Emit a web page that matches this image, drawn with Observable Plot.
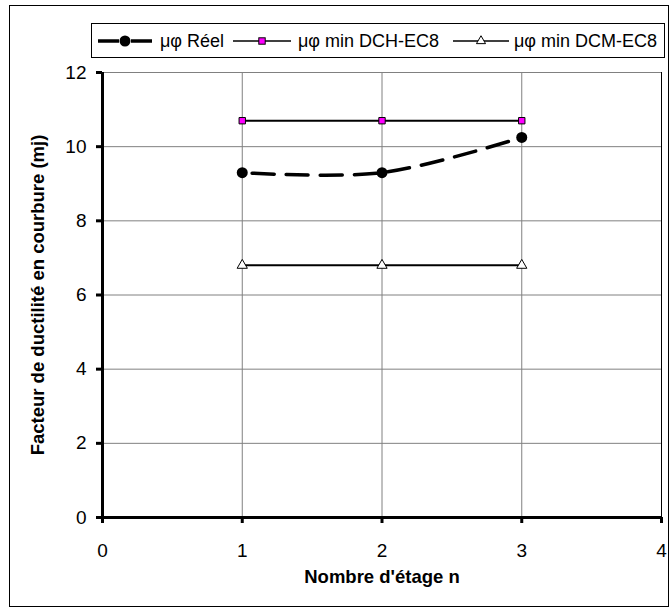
<!DOCTYPE html>
<html>
<head>
<meta charset="utf-8">
<script src="https://cdn.jsdelivr.net/npm/d3@7"></script>
<script src="https://cdn.jsdelivr.net/npm/@observablehq/plot@0.6"></script>
<style>
  html, body { margin: 0; padding: 0; background: #fff; }
  #wrap { position: relative; width: 672px; height: 614px; font-family: "Liberation Sans", Arial, sans-serif; }
  #frame { position: absolute; left: 9px; top: 5px; width: 660px; height: 602px; border: 1px solid #000; box-sizing: border-box; pointer-events: none; }
  #chart { position: absolute; left: 0; top: 0; }
  #legend { position: absolute; left: 91px; top: 23px; width: 574px; height: 35px; border: 1px solid #000; box-sizing: border-box; background: #fff; }
  #legend svg { position: absolute; left: 0; top: 0; }
</style>
</head>
<body>
<div id="wrap">
  <div id="chart"></div>
  <div id="frame"></div>
  <div id="legend"></div>
</div>
<script>
// ---- data ----
const etages = [1, 2, 3];
const reel = [9.3, 9.3, 10.25];
const dch = [10.7, 10.7, 10.7];
const dcm = [6.8, 6.8, 6.8];
const seriesNames = ["μφ Réel", "μφ min DCH-EC8", "μφ min DCM-EC8"];
const xTicks = [0, 1, 2, 3, 4];
const yTicks = [0, 2, 4, 6, 8, 10, 12];
const xTitle = "Nombre d'étage n";
const yTitle = "Facteur de ductilité en courbure (mj)";

const rowsReel = etages.map((e, i) => ({x: e, y: reel[i]}));
const rowsDch = etages.map((e, i) => ({x: e, y: dch[i]}));
const rowsDcm = etages.map((e, i) => ({x: e, y: dcm[i]}));

const chart = Plot.plot({
  width: 672,
  height: 614,
  marginTop: 72,
  marginBottom: 97,
  marginLeft: 102,
  marginRight: 11,
  style: {fontFamily: "Liberation Sans, Arial, sans-serif", color: "#000", background: "transparent"},
  x: {domain: [0, 4]},
  y: {domain: [0, 12]},
  marks: [
    Plot.gridX(xTicks.filter(d => d > 0), {stroke: "#808080", strokeOpacity: 1, strokeWidth: 1}),
    Plot.gridY(yTicks.filter(d => d > 0), {stroke: "#808080", strokeOpacity: 1, strokeWidth: 1}),
    Plot.ruleX([4], {stroke: "#000", strokeWidth: 1}),
    Plot.axisX({ticks: xTicks, tickSize: 6, tickPadding: 20, fontSize: 19, strokeWidth: 3, label: null, tickFormat: d => String(d)}),
    Plot.axisY({ticks: yTicks, tickSize: 6, tickPadding: 10, fontSize: 19, strokeWidth: 3, label: null, tickFormat: d => String(d)}),
    Plot.ruleY([0], {stroke: "#000", strokeWidth: 3}),
    Plot.ruleX([0], {stroke: "#000", strokeWidth: 3}),
    Plot.line(rowsDcm, {x: "x", y: "y", stroke: "#000", strokeWidth: 2}),
    Plot.dot(rowsDcm, {x: "x", y: "y", symbol: "triangle", r: 3.8, fill: "#fff", stroke: "#000", strokeWidth: 1}),
    Plot.line(rowsDch, {x: "x", y: "y", stroke: "#000", strokeWidth: 2}),
    Plot.dot(rowsDch, {x: "x", y: "y", symbol: "square", r: 3.6, fill: "#ff00ff", stroke: "#000", strokeWidth: 1}),
    Plot.line(rowsReel, {x: "x", y: "y", curve: "catmull-rom", stroke: "#000", strokeWidth: 3.5, strokeDasharray: "22,12", strokeDashoffset: -10}),
    Plot.dot(rowsReel, {x: "x", y: "y", r: 5.5, fill: "#000", stroke: "none"}),
    Plot.text([xTitle], {frameAnchor: "bottom", dy: 65, text: d => d, fontSize: 18.5, fontWeight: "bold", fill: "#000"}),
    Plot.text([yTitle], {frameAnchor: "left", dx: -64, rotate: -90, textAnchor: "middle", text: d => d, fontSize: 18.5, fontWeight: "bold", fill: "#000"})
  ]
});
document.getElementById("chart").appendChild(chart);

// ---- legend ----
const legend = d3.select("#legend").append("svg").attr("width", 572).attr("height", 33)
  .style("font-family", "Liberation Sans, Arial, sans-serif");
const cy = 17;
const items = [
  {x0: 6, x1: 60, tx: 68, kind: "reel"},
  {x0: 141, x1: 199, tx: 206, kind: "dch"},
  {x0: 361, x1: 417, tx: 422, kind: "dcm"}
];
items.forEach((it, i) => {
  const g = legend.append("g");
  const mid = (it.x0 + it.x1) / 2;
  if (it.kind === "reel") {
    g.append("line").attr("x1", it.x0).attr("x2", mid - 6).attr("y1", cy).attr("y2", cy).attr("stroke", "#000").attr("stroke-width", 3.5);
    g.append("line").attr("x1", mid + 6).attr("x2", it.x1).attr("y1", cy).attr("y2", cy).attr("stroke", "#000").attr("stroke-width", 3.5);
    g.append("circle").attr("cx", mid).attr("cy", cy).attr("r", 5.5).attr("fill", "#000");
  } else if (it.kind === "dch") {
    g.append("line").attr("x1", it.x0).attr("x2", it.x1).attr("y1", cy).attr("y2", cy).attr("stroke", "#000").attr("stroke-width", 1.5);
    g.append("rect").attr("x", mid - 3.2).attr("y", cy - 3.2).attr("width", 6.4).attr("height", 6.4).attr("fill", "#ff00ff").attr("stroke", "#000").attr("stroke-width", 1);
  } else {
    g.append("line").attr("x1", it.x0).attr("x2", it.x1).attr("y1", cy).attr("y2", cy).attr("stroke", "#000").attr("stroke-width", 1.5);
    g.append("path").attr("d", d3.symbol(d3.symbolTriangle, 36)()).attr("transform", `translate(${mid},${cy})`).attr("fill", "#fff").attr("stroke", "#000").attr("stroke-width", 1);
  }
  g.append("text").attr("x", it.tx).attr("y", cy).attr("dy", "0.35em").attr("font-size", 18).attr("fill", "#000").text(seriesNames[i]);
});
</script>
</body>
</html>
